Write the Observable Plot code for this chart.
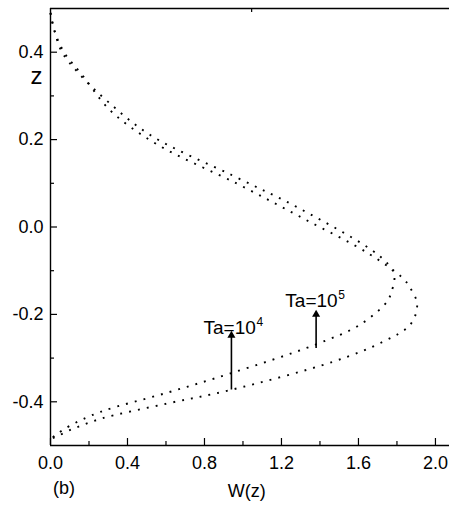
<!DOCTYPE html>
<html>
<head>
<meta charset="utf-8">
<script src="https://cdn.jsdelivr.net/npm/d3@7"></script>
<script src="https://cdn.jsdelivr.net/npm/@observablehq/plot@0.6"></script>
<style>
  html, body { margin: 0; padding: 0; background: #fff; }
  svg { display: block; }
</style>
</head>
<body>
<div id="chart"></div>
<script>
// Ta = 10^4 profile (outer curve): W values and matching z values
const ta4W = [0, 0.02, 0.07, 0.17, 0.31, 0.55, 0.97, 1.32, 1.65, 1.83, 1.87, 1.905, 1.87, 1.73, 1.47, 0.935, 0.606, 0.26, 0.10, 0.03, 0];
const ta4Z = [0.49, 0.45, 0.40, 0.345, 0.267, 0.19, 0.099, 0.018, -0.06, -0.117, -0.14, -0.177, -0.223, -0.262, -0.308, -0.373, -0.404, -0.439, -0.465, -0.48, -0.485];
// Ta = 10^5 profile (inner curve)
const ta5W = [0, 0.02, 0.06, 0.15, 0.29, 0.52, 0.95, 1.30, 1.70, 1.78, 1.787, 1.77, 1.75, 1.61, 1.377, 0.935, 0.60, 0.26, 0.10, 0.03, 0];
const ta5Z = [0.49, 0.45, 0.40, 0.35, 0.29, 0.21, 0.117, 0.041, -0.063, -0.101, -0.12, -0.15, -0.17, -0.223, -0.269, -0.335, -0.38, -0.423, -0.455, -0.475, -0.485];

// annotation arrows (data units) and labels
const arrowX = [0.94, 1.38];
const arrowFrom = [-0.373, -0.278];
const arrowTo = [-0.246, -0.198];
const labelBase = ["Ta=10", "Ta=10"];
const labelExp = ["4", "5"];
const labelX = [0.795, 1.22];
const labelZ = [-0.244, -0.182];

// tick values
const xMajor = [0, 0.4, 0.8, 1.2, 1.6, 2.0];
const xMinor = [0.2, 0.6, 1.0, 1.4, 1.8];
const yMajor = [-0.4, -0.2, 0, 0.2, 0.4];
const yMinor = [-0.3, -0.1, 0.1, 0.3];
const topTicks = [1.045];

const ta4 = ta4W.map((w, i) => ({w, z: ta4Z[i]}));
const ta5 = ta5W.map((w, i) => ({w, z: ta5Z[i]}));
const arrows = arrowX.map((x, i) => ({x, y1: arrowFrom[i], y2: arrowTo[i]}));
const labels = labelBase.map((t, i) => ({t, e: labelExp[i], x: labelX[i], z: labelZ[i]}));

const font = "'Liberation Sans', Arial, sans-serif";
const fmt = d => d.toFixed(1);
const dotted = {x: "w", y: "z", curve: "catmull-rom", stroke: "#000", strokeWidth: 1.9, strokeLinecap: "butt", strokeDasharray: "1.9,7.1"};

const chart = Plot.plot({
  width: 449,
  height: 507,
  marginLeft: 50,
  marginTop: 8,
  marginBottom: 62,
  marginRight: 0,
  style: {fontFamily: font, color: "#000", background: "#fff", overflow: "visible"},
  x: {domain: [0, 2.073]},
  y: {domain: [-0.5, 0.5]},
  marks: [
    Plot.ruleX([0], {stroke: "#000", strokeWidth: 1.4}),
    Plot.ruleY([-0.5], {stroke: "#000", strokeWidth: 1.4}),
    Plot.ruleY([0.5], {stroke: "#000", strokeWidth: 1.4}),
    Plot.axisX(xMajor, {anchor: "bottom", tickSize: -7, tickPadding: 18, tickFormat: fmt, fontSize: 18, strokeWidth: 1.2}),
    Plot.axisX(xMinor, {anchor: "bottom", tickSize: -4, tickFormat: () => "", strokeWidth: 1.2}),
    Plot.axisX(topTicks, {anchor: "top", tickSize: -3, tickFormat: () => "", strokeWidth: 1.2}),
    Plot.axisY(yMajor, {anchor: "left", tickSize: -7, tickPadding: 14, tickFormat: fmt, fontSize: 18, strokeWidth: 1.2}),
    Plot.axisY(yMinor, {anchor: "left", tickSize: -4, tickFormat: () => "", strokeWidth: 1.2}),
    Plot.line(ta4, dotted),
    Plot.line(ta5, dotted),
    Plot.ruleX(arrows, {x: "x", y1: "y1", y2: "y2", stroke: "#000", strokeWidth: 1.6}),
    Plot.dot(arrows, {x: "x", y: "y2", symbol: "triangle", r: 3, fill: "#000", stroke: "none", dy: 1}),
    Plot.text(labels, {x: "x", y: "z", text: "t", textAnchor: "start", lineAnchor: "bottom", fontSize: 19, fill: "#000"}),
    Plot.text(labels, {x: "x", y: "z", text: "e", textAnchor: "start", lineAnchor: "bottom", dx: 53, dy: -8, fontSize: 12, fill: "#000"}),
    Plot.text(["W(z)"], {x: 1.02, frameAnchor: "bottom", dy: 51, lineAnchor: "bottom", fontSize: 18, fill: "#000"}),
    Plot.text(["(b)"], {x: 0.07, frameAnchor: "bottom", dy: 48, lineAnchor: "bottom", fontSize: 18, fill: "#000"}),
    Plot.text(["z"], {y: 0.328, frameAnchor: "left", dx: -20, lineAnchor: "bottom", fontSize: 24, fill: "#000"})
  ]
});
document.getElementById("chart").appendChild(chart);
</script>
</body>
</html>
